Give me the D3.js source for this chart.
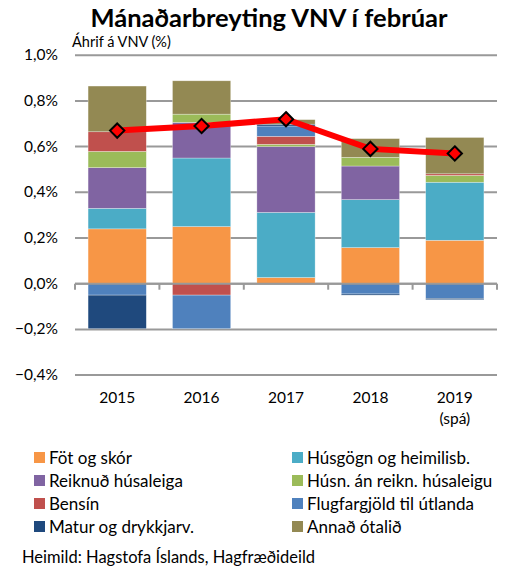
<!DOCTYPE html>
<html>
<head>
<meta charset="utf-8">
<script src="https://cdn.jsdelivr.net/npm/d3@7"></script>
<style>
  body { margin: 0; background: #fff; }
  svg text { font-family: Lato, "Open Sans", sans-serif; fill: #000; }
</style>
</head>
<body>
<div class="container"></div>
<script>
var WIDTH = 507, HEIGHT = 570;
var MARGIN = {top: 55, right: 10, bottom: 195, left: 75};

// data (%-points of CPI change)
var years = ['2015', '2016', '2017', '2018', '2019'];
var yearSub = ['', '', '', '', '(spá)'];
var seriesNames = ['Föt og skór', 'Húsgögn og heimilisb.', 'Reiknuð húsaleiga', 'Húsn. án reikn. húsaleigu',
                   'Bensín', 'Flugfargjöld til útlanda', 'Matur og drykkjarv.', 'Annað ótalið'];
var fot     = [0.24, 0.25, 0.027, 0.158, 0.19];
var husgogn = [0.09, 0.30, 0.285, 0.21, 0.254];
var reiknud = [0.178, 0.156, 0.288, 0.147, 0];
var husn    = [0.071, 0.036, 0.01, 0.038, 0.03];
var bensin  = [0.086, -0.05, 0.035, 0, 0.007];
var flug    = [-0.05, -0.147, 0.045, -0.045, -0.064];
var matur   = [-0.147, 0, 0.008, -0.005, -0.006];
var annad   = [0.2, 0.146, 0.02, 0.082, 0.159];
var total   = [0.67, 0.69, 0.72, 0.59, 0.57];
var yTicks  = [-0.4, -0.2, 0, 0.2, 0.4, 0.6, 0.8, 1.0];

var colors = ['#F79646', '#4BACC6', '#8064A2', '#9BBB59', '#C0504D', '#4F81BD', '#1F497D', '#938953'];
var seriesValues = [fot, husgogn, reiknud, husn, bensin, flug, matur, annad];

var table = years.map(function(y, i){
    var row = {year: y};
    seriesNames.forEach(function(n, j){ row[n] = seriesValues[j][i]; });
    return row;
});

var svg = d3.select('.container').append('svg')
            .attr('width', WIDTH)
            .attr('height', HEIGHT);

var xScale = d3.scaleBand()
               .domain(years)
               .range([MARGIN.left, WIDTH - MARGIN.right])
               .paddingInner(0.31)
               .paddingOuter(0.155);

var yScale = d3.scaleLinear()
               .domain([-0.4, 1.0])
               .range([375.1, 55.2]);

var loc = d3.formatLocale({decimal: ',', thousands: '.', grouping: [3], currency: ['', '']});
var fmt = loc.format('.1f');

// gridlines
svg.append('g').selectAll('line').data(yTicks).enter()
    .append('line')
      .attr('x1', MARGIN.left).attr('x2', WIDTH - MARGIN.right)
      .attr('y1', function(d){ return yScale(d); })
      .attr('y2', function(d){ return yScale(d); })
      .attr('stroke', '#999').attr('stroke-width', 2);

svg.append('g').selectAll('text').data(yTicks).enter()
    .append('text')
      .attr('x', 58)
      .attr('y', function(d){ return yScale(d) + 5; })
      .attr('text-anchor', 'end')
      .attr('font-size', 15.5)
      .text(function(d){ return fmt(d) + '%'; });

// stacked bars
var stack = d3.stack()
              .keys(seriesNames)
              .order(d3.stackOrderNone)
              .offset(d3.stackOffsetDiverging);

var layers = svg.append('g').selectAll('g').data(stack(table)).enter()
    .append('g')
      .attr('fill', function(d, i){ return colors[i]; });

layers.selectAll('rect').data(function(d){ return d; }).enter()
    .append('rect')
      .attr('x', function(d){ return xScale(d.data.year); })
      .attr('width', xScale.bandwidth())
      .attr('y', function(d){ return yScale(Math.max(d[0], d[1])); })
      .attr('height', function(d){ return Math.abs(yScale(d[0]) - yScale(d[1])); })
      .attr('stroke', 'rgba(255,255,255,0.5)')
      .attr('stroke-width', 0.6);

// x axis at 0
var axisG = svg.append('g')
    .attr('transform', 'translate(0,' + yScale(0) + ')');
axisG.append('line')
    .attr('x1', MARGIN.left).attr('x2', WIDTH - MARGIN.right)
    .attr('stroke', '#999').attr('stroke-width', 2);
var step = xScale.step();
var x0 = xScale(years[0]) - step * xScale.paddingOuter();
axisG.selectAll('line.sep').data(d3.range(years.length + 1)).enter()
    .append('line')
      .classed('sep', true)
      .attr('x1', function(i){ return x0 + i * step; })
      .attr('x2', function(i){ return x0 + i * step; })
      .attr('y1', 0).attr('y2', 6)
      .attr('stroke', '#999').attr('stroke-width', 2);

// year labels
svg.append('g').selectAll('text').data(years).enter()
    .append('text')
      .attr('x', function(d){ return xScale(d) + xScale.bandwidth() / 2; })
      .attr('y', 403)
      .attr('text-anchor', 'middle')
      .attr('font-size', 15.5)
      .text(function(d){ return d; });
svg.append('g').selectAll('text').data(yearSub).enter()
    .append('text')
      .attr('x', function(d, i){ return xScale(years[i]) + xScale.bandwidth() / 2; })
      .attr('y', 424)
      .attr('text-anchor', 'middle')
      .attr('font-size', 15.5)
      .text(function(d){ return d; });

// total line
var line = d3.line()
             .x(function(d, i){ return xScale(years[i]) + xScale.bandwidth() / 2; })
             .y(function(d){ return yScale(d); });

svg.append('path')
    .attr('d', line(total))
    .attr('fill', 'none')
    .attr('stroke', '#FF0000')
    .attr('stroke-width', 6);

svg.append('g').selectAll('path').data(total).enter()
    .append('path')
      .attr('d', d3.symbol().type(d3.symbolDiamond2).size(130))
      .attr('transform', function(d, i){
          return 'translate(' + (xScale(years[i]) + xScale.bandwidth() / 2) + ',' + yScale(d) + ')';
      })
      .attr('fill', '#FF0000')
      .attr('stroke', '#000')
      .attr('stroke-width', 2);

// titles
svg.append('text')
    .attr('x', 269).attr('y', 27)
    .attr('text-anchor', 'middle')
    .attr('font-size', 25.5).attr('font-weight', 'bold')
    .text('Mánaðarbreyting VNV í febrúar');
svg.append('text')
    .attr('x', 72).attr('y', 47)
    .attr('font-size', 14.5)
    .text('Áhrif á VNV (%)');

// legend
var legend = svg.append('g').selectAll('g').data(seriesNames).enter()
    .append('g')
      .attr('transform', function(d, i){
          var col = i % 2, row = Math.floor(i / 2);
          return 'translate(' + (col ? 292 : 34) + ',' + (452 + row * 23) + ')';
      });
legend.append('rect')
    .attr('width', 11).attr('height', 11)
    .attr('fill', function(d, i){ return colors[i]; });
legend.append('text')
    .attr('x', 15).attr('y', 11.5)
    .attr('font-size', 17)
    .text(function(d){ return d; });

svg.append('text')
    .attr('x', 22).attr('y', 563)
    .attr('font-size', 16.5)
    .text('Heimild: Hagstofa Íslands, Hagfræðideild');
</script>
</body>
</html>
